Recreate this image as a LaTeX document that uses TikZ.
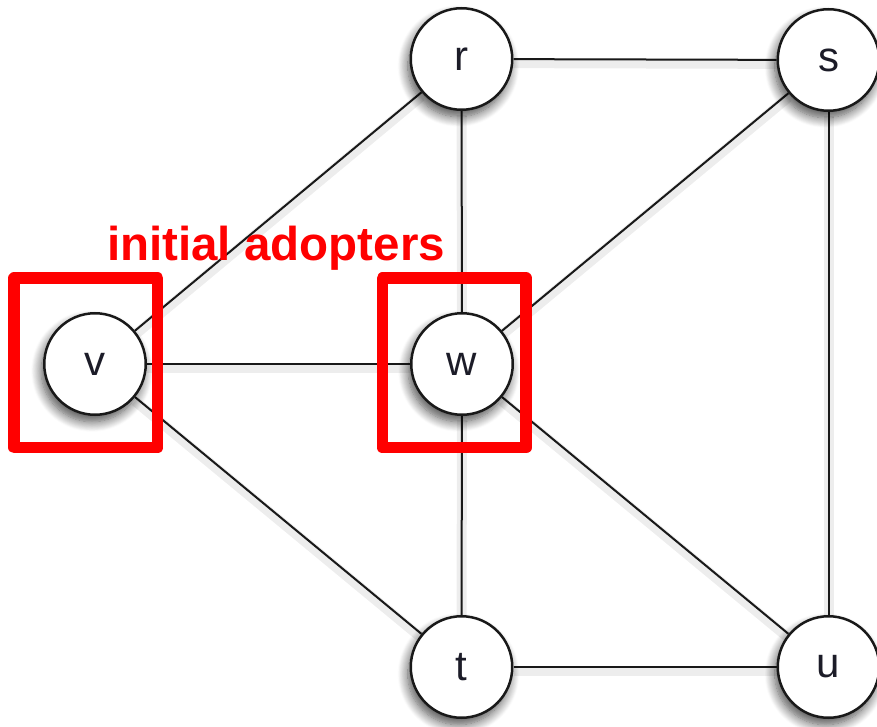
\documentclass[tikz,border=0pt]{standalone}
\usepackage{fontspec}
\setmainfont{Liberation Sans}
\usetikzlibrary{shadows.blur,backgrounds}
\definecolor{labelink}{HTML}{1C1C28}
\definecolor{adopterred}{HTML}{FF0000}
\tikzset{
  vertex/.style={circle, draw=black!90, line width=2.5pt, fill=white,
    minimum size=101.5pt, inner sep=0pt, text=labelink,
    font=\fontsize{42}{42}\selectfont,
    blur shadow={shadow xshift=-3pt, shadow yshift=-7pt,
      shadow blur radius=10pt, shadow blur steps=12, shadow opacity=70}},
  link/.style={line width=2pt, black!90,
    preaction={draw, black, opacity=0.07, line width=10pt,
      transform canvas={yshift=-4pt}}},
  adopterbox/.style={draw=adopterred, line width=11.5pt, line join=round},
  caption/.style={text=adopterred, anchor=base, inner sep=0pt,
    font=\fontsize{47.5}{47.5}\selectfont\bfseries}
}
\begin{document}
\begin{tikzpicture}[x=1pt,y=-1pt]
  \useasboundingbox (0,0) rectangle (877,727);
  % vertices
  \node[vertex] (r) at (461.5,59)  {r};
  \node[vertex] (s) at (828.5,60)  {s};
  \node[vertex] (v) at (95,364)    {v};
  \node[vertex] (w) at (462,364)   {w};
  \node[vertex] (t) at (461.5,667) {t};
  \node[vertex] (u) at (828.5,667) {u};
  % edges, kept beneath the vertices
  \begin{pgfonlayer}{background}
    \draw[link] (r) -- (s);
    \draw[link] (r) -- (v);
    \draw[link] (r) -- (w);
    \draw[link] (s) -- (w);
    \draw[link] (s) -- (u);
    \draw[link] (v) -- (w);
    \draw[link] (v) -- (t);
    \draw[link] (w) -- (t);
    \draw[link] (w) -- (u);
    \draw[link] (t) -- (u);
  \end{pgfonlayer}
  % highlighted starting set
  \draw[adopterbox] (14.2,278.2) rectangle (157.7,447.7);
  \draw[adopterbox] (382.5,278.2) rectangle (526.2,447.7);
  \node[caption] (cap) at (276,260) {initial adopters};
\end{tikzpicture}
\end{document}
